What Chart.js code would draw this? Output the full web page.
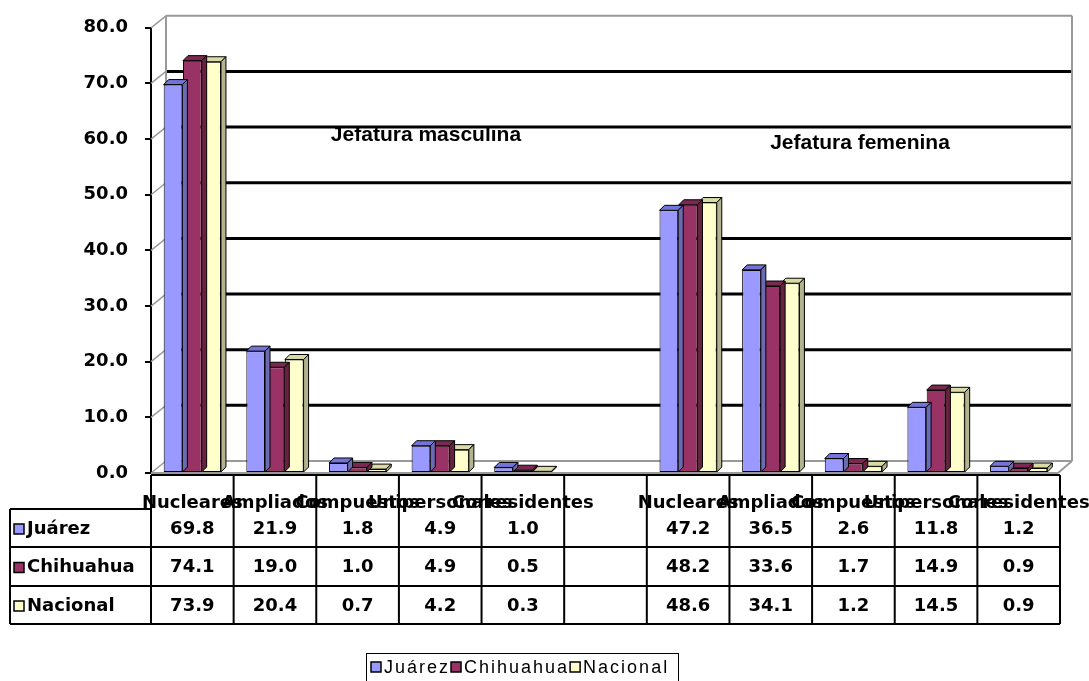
<!DOCTYPE html>
<html>
<head>
<meta charset="utf-8">
<script src="https://cdn.jsdelivr.net/npm/chart.js@4/dist/chart.umd.min.js"></script>
<style>
  html, body { margin: 0; padding: 0; background: #fff; }
  canvas { display: block; }
</style>
</head>
<body>
<canvas id="chart" width="1089" height="681"></canvas>
<script>
const categories = ['Nucleares', 'Ampliados', 'Compuestos', 'Unipersonales', 'Corresidentes', '',
  'Nucleares', 'Ampliados', 'Compuestos', 'Unipersonales', 'Corresidentes'];
const juarez = [69.8, 21.9, 1.8, 4.9, 1.0, null, 47.2, 36.5, 2.6, 11.8, 1.2];
const chihuahua = [74.1, 19.0, 1.0, 4.9, 0.5, null, 48.2, 33.6, 1.7, 14.9, 0.9];
const nacional = [73.9, 20.4, 0.7, 4.2, 0.3, null, 48.6, 34.1, 1.2, 14.5, 0.9];
const seriesNames = ['Juárez', 'Chihuahua', 'Nacional'];
const groupLabels = ['Jefatura masculina', 'Jefatura femenina'];
const yTicks = [0, 10, 20, 30, 40, 50, 60, 70, 80];

const COLORS = {
  face: ['#9999FF', '#993366', '#FFFFCC'],
  top: ['#7373D9', '#7A2952', '#DADAA6'],
  side: ['#6B6BB3', '#66223F', '#B3B38F'],
};
const BOLD = 'bold 18px "DejaVu Sans"';
const WALL = { dx: 15, dy: -12 };
const BAR_DEPTH = 5;

function fmt(v) {
  return v == null ? '' : v.toFixed(1);
}

// back wall, side wall, floor and gridlines of the 3D box
const wallPlugin = {
  id: 'wall',
  beforeDatasetsDraw(chart) {
    const { ctx, chartArea: a, scales: { y } } = chart;
    const bx0 = a.left + WALL.dx, bx1 = a.right + WALL.dx - 3;
    ctx.save();
    ctx.lineCap = 'butt';
    for (const v of yTicks) {
      const py = y.getPixelForValue(v);
      ctx.strokeStyle = '#999';
      ctx.lineWidth = 1.5;
      ctx.beginPath();
      ctx.moveTo(a.left, py);
      ctx.lineTo(bx0, py + WALL.dy);
      ctx.stroke();
      if (v === 0 || v === 80) {
        ctx.strokeStyle = '#999';
        ctx.lineWidth = 2;
      } else {
        ctx.strokeStyle = '#000';
        ctx.lineWidth = 3;
      }
      ctx.beginPath();
      ctx.moveTo(bx0, py + WALL.dy);
      ctx.lineTo(bx1, py + WALL.dy);
      ctx.stroke();
    }
    const top = y.getPixelForValue(80) + WALL.dy;
    const bot = y.getPixelForValue(0) + WALL.dy;
    ctx.strokeStyle = '#999';
    ctx.lineWidth = 2;
    ctx.beginPath();
    ctx.moveTo(bx0, top); ctx.lineTo(bx0, bot);
    ctx.moveTo(bx1, top); ctx.lineTo(bx1, bot);
    ctx.moveTo(a.right - 2, a.bottom); ctx.lineTo(bx1, bot);
    ctx.moveTo(a.left, a.bottom); ctx.lineTo(a.right - 2, a.bottom);
    ctx.stroke();
    ctx.restore();
  },
};

// top and side faces of each bar
const depthPlugin = {
  id: 'depth',
  afterDatasetDraw(chart, args) {
    const { ctx } = chart;
    const i = args.index;
    const meta = chart.getDatasetMeta(i);
    ctx.save();
    ctx.strokeStyle = '#000';
    ctx.lineWidth = 1;
    ctx.lineJoin = 'round';
    meta.data.forEach((bar, k) => {
      if (chart.data.datasets[i].data[k] == null) return;
      const { x, y, base, width } = bar.getProps(['x', 'y', 'base', 'width'], true);
      const l = x - width / 2, r = x + width / 2, d = BAR_DEPTH;
      ctx.fillStyle = COLORS.top[i];
      ctx.beginPath();
      ctx.moveTo(l, y); ctx.lineTo(r, y); ctx.lineTo(r + d, y - d); ctx.lineTo(l + d, y - d);
      ctx.closePath();
      ctx.fill(); ctx.stroke();
      ctx.fillStyle = COLORS.side[i];
      ctx.beginPath();
      ctx.moveTo(r, y); ctx.lineTo(r + d, y - d); ctx.lineTo(r + d, base - d); ctx.lineTo(r, base);
      ctx.closePath();
      ctx.fill(); ctx.stroke();
    });
    ctx.restore();
  },
};

// data table under the axis, group titles and the legend box
const tablePlugin = {
  id: 'table',
  afterDraw(chart) {
    const { ctx, chartArea: a, scales: { x } } = chart;
    const n = categories.length;
    const cw = (a.right - a.left) / n;
    const axisY = a.bottom + 2;
    const rows = [509, 547, 586, 624];
    const tableLeft = 10;
    const series = [juarez, chihuahua, nacional];

    ctx.save();
    ctx.strokeStyle = '#000';
    ctx.lineWidth = 2;
    ctx.beginPath();
    ctx.moveTo(a.left, axisY); ctx.lineTo(a.right, axisY);
    for (let i = 0; i <= n; i++) {
      const px = a.left + i * cw;
      ctx.moveTo(px, axisY); ctx.lineTo(px, rows[3]);
    }
    ctx.moveTo(tableLeft, rows[0]); ctx.lineTo(a.left, rows[0]);
    ctx.moveTo(tableLeft, rows[0]); ctx.lineTo(tableLeft, rows[3]);
    for (let r = 1; r < rows.length; r++) {
      ctx.moveTo(tableLeft, rows[r]); ctx.lineTo(a.right, rows[r]);
    }
    ctx.stroke();

    ctx.fillStyle = '#000';
    ctx.font = BOLD;
    ctx.textAlign = 'center';
    ctx.textBaseline = 'middle';
    categories.forEach((c, i) => ctx.fillText(c, x.getPixelForValue(i), 503));

    series.forEach((vals, s) => {
      const cy = (rows[s] + rows[s + 1]) / 2 + 1;
      ctx.fillStyle = COLORS.face[s];
      ctx.fillRect(14, cy - 5, 10, 10);
      ctx.lineWidth = 1.5;
      ctx.strokeRect(14, cy - 5, 10, 10);
      ctx.fillStyle = '#000';
      ctx.textAlign = 'left';
      ctx.fillText(seriesNames[s], 27, cy);
      ctx.textAlign = 'center';
      vals.forEach((v, i) => ctx.fillText(fmt(v), x.getPixelForValue(i), cy));
    });

    // group titles
    ctx.font = 'bold 21px "Liberation Sans"';
    ctx.fillText(groupLabels[0], 426, 135);
    ctx.fillText(groupLabels[1], 860, 143);

    // legend
    ctx.lineWidth = 1;
    ctx.strokeRect(366.5, 653.5, 312, 40);
    ctx.font = '18px "Liberation Sans"';
    ctx.letterSpacing = '2px';
    ctx.textAlign = 'left';
    let lx = 371;
    seriesNames.forEach((name, s) => {
      ctx.fillStyle = COLORS.face[s];
      ctx.fillRect(lx, 662, 10, 10);
      ctx.strokeStyle = '#000';
      ctx.lineWidth = 1.5;
      ctx.strokeRect(lx, 662, 10, 10);
      ctx.fillStyle = '#000';
      ctx.fillText(name, lx + 13, 668);
      lx += 13 + ctx.measureText(name).width + 1;
    });
    ctx.restore();
  },
};

new Chart(document.getElementById('chart'), {
  type: 'bar',
  data: {
    labels: categories,
    datasets: [
      { label: seriesNames[0], data: juarez, backgroundColor: COLORS.face[0] },
      { label: seriesNames[1], data: chihuahua, backgroundColor: COLORS.face[1] },
      { label: seriesNames[2], data: nacional, backgroundColor: COLORS.face[2] },
    ].map(d => ({ ...d, borderColor: '#000', borderWidth: 1, borderSkipped: false,
      categoryPercentage: 0.7, barPercentage: 0.97 })),
  },
  options: {
    responsive: false,
    animation: false,
    layout: { padding: { top: 23, bottom: 208, right: 29, left: 0 } },
    plugins: { legend: { display: false }, tooltip: { enabled: false } },
    scales: {
      x: {
        grid: { display: false },
        border: { display: false },
        ticks: { display: false },
        afterFit: s => { s.height = 0; },
      },
      y: {
        min: 0,
        max: 80,
        afterFit: s => { s.width = 151; },
        ticks: {
          stepSize: 10,
          padding: 17,
          color: '#000',
          font: { family: 'DejaVu Sans', weight: 'bold', size: 18 },
          callback: v => Number(v).toFixed(1),
        },
        grid: { drawOnChartArea: false, drawTicks: true, tickLength: 6, color: '#000', lineWidth: 2 },
        border: { display: true, color: '#000', width: 2 },
      },
    },
  },
  plugins: [wallPlugin, depthPlugin, tablePlugin],
});
</script>
</body>
</html>
